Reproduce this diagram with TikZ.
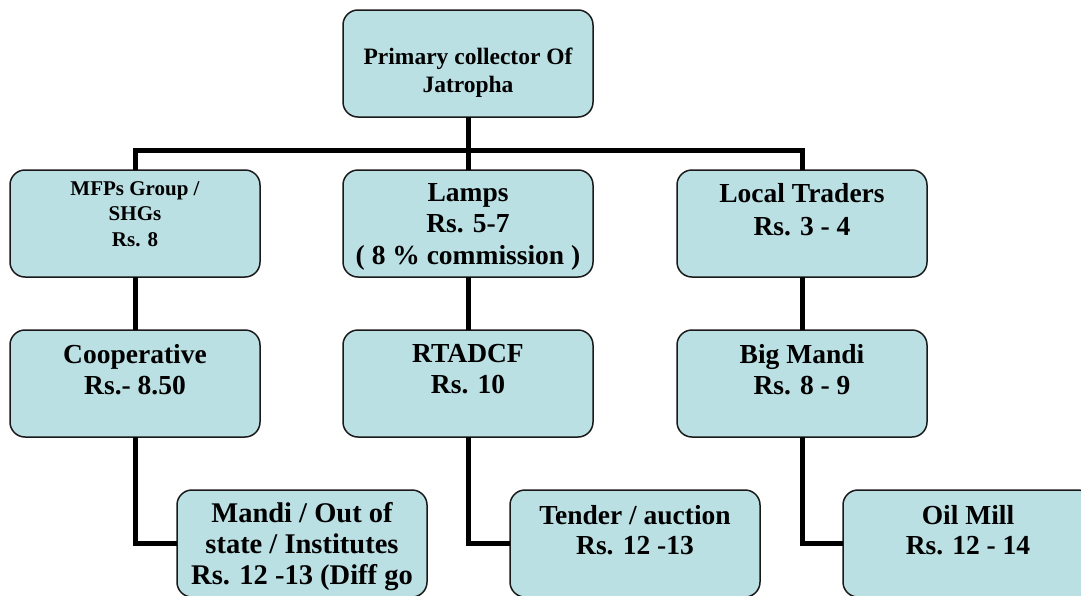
\documentclass[tikz,border=0pt]{standalone}
\usepackage{fontspec}
\setmainfont{Liberation Serif}
\begin{document}
\begin{tikzpicture}[x=1pt,y=-1pt,
  box/.style={draw=black!90, line width=1.5pt, fill=boxfill, rounded corners=15pt,
    minimum width=250pt, minimum height=107pt, inner sep=0pt, outer sep=0pt},
  conn/.style={line width=5pt, line join=miter},
  txt/.style={align=center, inner sep=0pt, anchor=north,
    execute at begin node={\rule{0pt}{22pt}}},
  big/.style={txt, font=\fontsize{27.5}{31.5}\selectfont\bfseries},
  mid/.style={txt, font=\fontsize{23.5}{28}\selectfont\bfseries},
  small/.style={txt, font=\fontsize{21}{25.5}\selectfont\bfseries}]
\definecolor{boxfill}{RGB}{186,224,228}
\useasboundingbox (0,0) rectangle (1081,595);
\fill[white] (0,0) rectangle (1081,595);
\clip (0,0) rectangle (1081,595);

% boxes
\node[box] (top)   at (468,63.5)  {};
\node[box] (mfp)   at (135,223.5) {};
\node[box] (lmp)   at (468,223.5) {};
\node[box] (trd)   at (802,223.5) {};
\node[box] (coop)  at (135,383.5) {};
\node[box] (rta)   at (468,383.5) {};
\node[box] (bigm)  at (802,383.5) {};
\node[box] (mandi) at (302,543.5) {};
\node[box] (tend)  at (635,543.5) {};
\node[box] (oil)   at (968,543.5) {};

% labels (shifted down from each box's top edge)
\node[mid]   (ttop)   at ([yshift=-38]top.north)  {Primary collector Of\\Jatropha};
\node[small] (tmfp)   at ([yshift=-11]mfp.north)  {MFPs Group /\\SHGs\\Rs. 8};
\node[big]   (tlmp)   at ([yshift=-13]lmp.north)  {Lamps\\Rs. 5-7\\( 8 \% commission )};
\node[big, font=\fontsize{27.5}{33}\selectfont\bfseries]
             (ttrd)   at ([yshift=-13]trd.north)  {Local Traders\\Rs. 3 - 4};
\node[big]   (tcoop)  at ([yshift=-14]coop.north) {Cooperative\\Rs.- 8.50};
\node[big]   (trta)   at ([yshift=-14]rta.north)  {RTADCF\\Rs. 10};
\node[big]   (tbigm)  at ([yshift=-14]bigm.north) {Big Mandi\\Rs. 8 - 9};
\node[big, font=\fontsize{28.5}{31}\selectfont\bfseries]
             (tmandi) at ([yshift=-12]mandi.north) {Mandi / Out of\\state / Institutes\\Rs. 12 -13 (Diff go};
\node[big, font=\fontsize{27.5}{30}\selectfont\bfseries]
             (ttend)  at ([yshift=-15]tend.north) {Tender / auction\\Rs. 12 -13};
\node[big, font=\fontsize{27.5}{30}\selectfont\bfseries]
             (toil)   at ([yshift=-15]oil.north)  {Oil Mill\\Rs. 12 - 14};

% connectors
\draw[conn] (top.south) -- ++(0,33) coordinate (hub);
\draw[conn] (mfp.north) |- (hub) -| (trd.north);
\draw[conn] (hub) -- (lmp.north);
\draw[conn] (mfp.south) -- (coop.north);
\draw[conn] (lmp.south) -- (rta.north);
\draw[conn] (trd.south) -- (bigm.north);
\draw[conn] (coop.south) |- (mandi.west);
\draw[conn] (rta.south) |- (tend.west);
\draw[conn] (bigm.south) |- (oil.west);
\end{tikzpicture}
\end{document}
